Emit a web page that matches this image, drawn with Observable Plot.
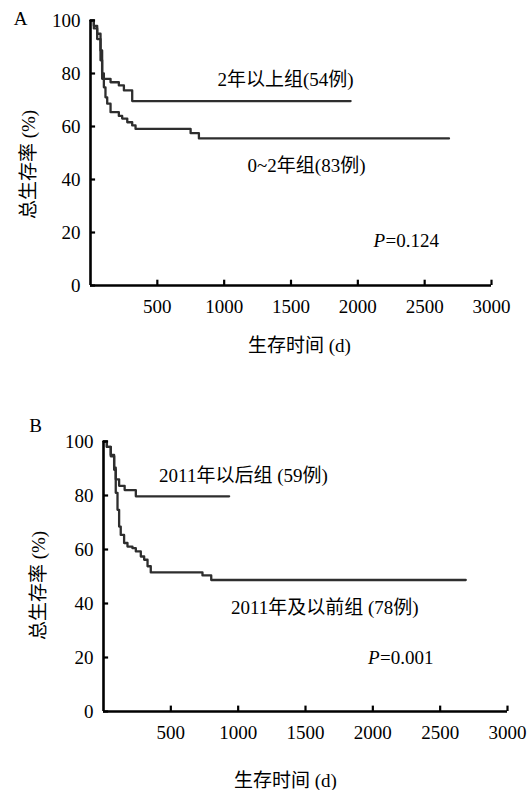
<!DOCTYPE html>
<html><head><meta charset="utf-8">
<script src="https://cdn.jsdelivr.net/npm/d3@7"></script>
<script src="https://cdn.jsdelivr.net/npm/@observablehq/plot@0.6"></script>
<style>body{margin:0;background:#fff} #a,#b{width:527px;height:395px}</style>
</head><body><div id="a"></div><div id="b"></div>
<script>
const xTicks = [500, 1000, 1500, 2000, 2500, 3000];
const yTicks = [0, 20, 40, 60, 80, 100];
const xTitle = "生存时间 (d)";
const yTitle = "总生存率 (%)";

// Panel A
const aOverTime = [0, 25, 50, 75, 87, 150, 212, 250, 312, 1946];
const aOverSurv = [100, 98, 95, 88.7, 78, 76.7, 75.5, 73.6, 69.6, 69.6];
const aUnderTime = [0, 25, 50, 75, 87, 100, 112, 125, 150, 212, 237, 275, 312, 337, 749, 811, 2682];
const aUnderSurv = [100, 97, 93, 85, 80, 74.8, 71, 68.6, 65.4, 64, 63, 61.6, 60.4, 59.1, 57.5, 55.5, 55.5];
const aLabels = ["2年以上组(54例)", "0~2年组(83例)"];
const aP = "=0.124";

// Panel B
const bAfterTime = [0, 25, 54, 79, 91, 116, 157, 240, 933];
const bAfterSurv = [100, 98, 95, 90.3, 86, 83.6, 82, 79.7, 79.7];
const bBeforeTime = [0, 25, 54, 79, 91, 104, 116, 128, 153, 178, 215, 240, 277, 302, 327, 351, 735, 800, 2690];
const bBeforeSurv = [100, 98, 94.5, 89.5, 81, 74.7, 68.5, 65.4, 62.4, 61.1, 60.5, 59.3, 57.4, 56.2, 53.8, 51.5, 50.4, 48.7, 48.7];
const bLabels = ["2011年以后组 (59例)", "2011年及以前组 (78例)"];
const bP = "=0.001";

const toRows = (t, s) => t.map((d, i) => ({t: d, s: s[i]}));
const FONT = '"Liberation Serif","Noto Sans CJK SC",serif';
const LINE = "#2e2e2e";

function panel({letter, curves, pText, ml, mr, mt, mb, xTitleD, yTitleD, letterD, lab1, lab2, pPos}) {
  return Plot.plot({
    width: 527, height: 395,
    marginLeft: ml, marginRight: mr, marginTop: mt, marginBottom: mb,
    x: {domain: [0, 3000]},
    y: {domain: [0, 100]},
    style: {fontFamily: FONT, fontSize: "19px", background: "#fff", color: "#000", overflow: "visible"},
    marks: [
      ...curves.map(c => Plot.line(c, {x: "t", y: "s", curve: "step-after", stroke: LINE, strokeWidth: 2.3})),
      Plot.axisX(xTicks, {tickSize: 0, tickPadding: 14, label: null, tickFormat: d => String(d), fontSize: 19}),
      Plot.axisY(yTicks, {tickSize: 0, tickPadding: 10, label: null, tickFormat: d => String(d), fontSize: 19}),
      Plot.ruleX(xTicks, {y1: 0, y2: 2, strokeWidth: 2.2, stroke: "#000"}),
      Plot.ruleY(yTicks, {x1: 0, x2: 38, strokeWidth: 2.2, stroke: "#000"}),
      Plot.ruleY([0], {strokeWidth: 2.6, stroke: "#000"}),
      Plot.ruleX([0], {strokeWidth: 2.6, stroke: "#000"}),
      Plot.text([lab1.text], {x: lab1.x, y: lab1.y, text: d => d, textAnchor: "start", fontSize: 19}),
      Plot.text([lab2.text], {x: lab2.x, y: lab2.y, text: d => d, textAnchor: "start", fontSize: 19}),
      Plot.text(["P"], {x: pPos.x, y: pPos.y, text: d => d, textAnchor: "start", fontStyle: "italic", fontSize: 19}),
      Plot.text([pText], {x: pPos.x, y: pPos.y, dx: 12, text: d => d, textAnchor: "start", fontSize: 19}),
      Plot.text([xTitle], {frameAnchor: "bottom", dx: xTitleD[0], dy: xTitleD[1], text: d => d, textAnchor: "middle", lineAnchor: "middle", fontSize: 19}),
      Plot.text([yTitle], {frameAnchor: "left", dx: yTitleD[0], dy: yTitleD[1], rotate: -90, text: d => d, textAnchor: "middle", lineAnchor: "middle", fontSize: 19}),
      Plot.text([letter], {frameAnchor: "top-left", dx: letterD[0], dy: letterD[1], text: d => d, textAnchor: "middle", lineAnchor: "middle", fontSize: 19})
    ]
  });
}

document.getElementById("a").append(panel({
  letter: "A",
  curves: [toRows(aOverTime, aOverSurv), toRows(aUnderTime, aUnderSurv)],
  pText: aP,
  ml: 90, mr: 36, mt: 20, mb: 110,
  xTitleD: [8.5, 60], yTitleD: [-62, 11.5], letterD: [-70, -2],
  lab1: {text: aLabels[0], x: 950, y: 77.4},
  lab2: {text: aLabels[1], x: 1175, y: 45.3},
  pPos: {x: 2118, y: 17}
}));

document.getElementById("b").append(panel({
  letter: "B",
  curves: [toRows(bAfterTime, bAfterSurv), toRows(bBeforeTime, bBeforeSurv)],
  pText: bP,
  ml: 103, mr: 20, mt: 46, mb: 79,
  xTitleD: [-20, 69], yTitleD: [-65, 9], letterD: [-68, -16],
  lab1: {text: bLabels[0], x: 413, y: 87.3},
  lab2: {text: bLabels[1], x: 946, y: 38.5},
  pPos: {x: 1964, y: 20}
}));
</script></body></html>
